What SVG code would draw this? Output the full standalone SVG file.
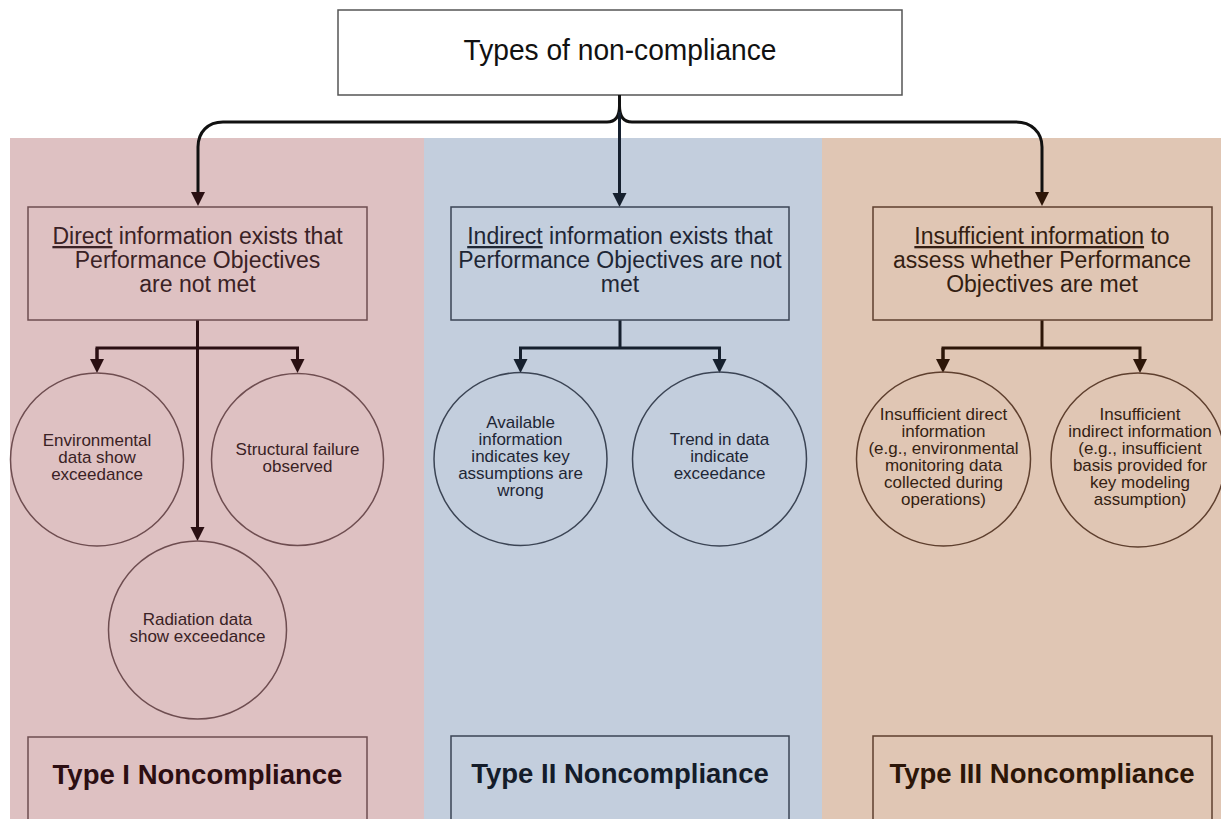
<svg xmlns="http://www.w3.org/2000/svg" width="1221" height="819" viewBox="0 0 1221 819">
<style>
text{font-family:"Liberation Sans",Arial,sans-serif;text-anchor:middle}
.hdr{font-size:23px}
.cir{font-size:17px}
.big{font-size:27.5px;font-weight:bold}
.p1 .box,.p1 .c{fill:none;stroke:#6e4d50;stroke-width:1.5}
.p2 .box,.p2 .c{fill:none;stroke:#3b4454;stroke-width:1.5}
.p3 .box,.p3 .c{fill:none;stroke:#5e3f2e;stroke-width:1.5}
.p1 text{fill:#3a2225}
.p2 text{fill:#1e2635}
.p3 text{fill:#341e12}
.p1 .big{fill:#2c0e12}
.p2 .big{fill:#141c2a}
.p3 .big{fill:#2c1608}
.ln{fill:none;stroke-width:3}
</style>
<defs>
<marker id="a1" markerUnits="userSpaceOnUse" markerWidth="15" markerHeight="15" refX="5" refY="7" orient="auto"><path d="M0,0 L14,7 L0,14 z" fill="#2a0f12"/></marker>
<marker id="a2" markerUnits="userSpaceOnUse" markerWidth="15" markerHeight="15" refX="5" refY="7" orient="auto"><path d="M0,0 L14,7 L0,14 z" fill="#16202e"/></marker>
<marker id="a3" markerUnits="userSpaceOnUse" markerWidth="15" markerHeight="15" refX="5" refY="7" orient="auto"><path d="M0,0 L14,7 L0,14 z" fill="#2d1608"/></marker>
</defs>
<rect width="1221" height="819" fill="#ffffff"/>
<g id="panels">
<rect x="10" y="138" width="414" height="681" fill="#dec1c2"/>
<rect x="424" y="138" width="398" height="681" fill="#c3cedd"/>
<rect x="822" y="138" width="399" height="681" fill="#e0c6b4"/>
</g>
<g id="root">
<rect x="338" y="10" width="564" height="85" fill="#ffffff" stroke="#555555" stroke-width="1.5"/>
<text x="620" y="60" font-size="30" fill="#111" textLength="313" lengthAdjust="spacingAndGlyphs">Types of non-compliance</text>
</g>
<g id="connectors">
<path class="ln" stroke="#111" stroke-width="3.5" d="M619.5,106 C619.5,117 615,122 607,122 H223 C208,122 198,132 198,147 V197" marker-end="url(#a1)"/>
<path class="ln" stroke="#111" stroke-width="3.5" d="M619.5,106 C619.5,117 624,122 632,122 H1016 C1031,122 1042,132 1042,147 V197" marker-end="url(#a3)"/>
<path class="ln" stroke="#16202e" stroke-width="2.5" d="M619.5,95 V198" marker-end="url(#a2)"/>
<path class="ln" stroke="#111" stroke-width="2" d="M619.5,95 V112"/>
<path class="ln" stroke="#2a0f12" d="M197.5,320 V532" marker-end="url(#a1)"/>
<path class="ln" stroke="#2a0f12" d="M97,364 V348 H297.5 V364" marker-end="url(#a1)"/>
<path class="ln" stroke="#2a0f12" d="M97,348 V364" marker-end="url(#a1)"/>
<path class="ln" stroke="#16202e" d="M620,320 V348"/>
<path class="ln" stroke="#16202e" d="M520.5,364 V348 H719.5 V364" marker-end="url(#a2)"/>
<path class="ln" stroke="#16202e" d="M520.5,348 V364" marker-end="url(#a2)"/>
<path class="ln" stroke="#2d1608" d="M1042,320 V348"/>
<path class="ln" stroke="#2d1608" d="M943,364 V348 H1140 V364" marker-end="url(#a3)"/>
<path class="ln" stroke="#2d1608" d="M943,348 V364" marker-end="url(#a3)"/>
</g>
<g id="direct" class="p1">
<rect class="box" x="28" y="207" width="339" height="113"/>
<text class="hdr" x="197.5" y="244"><tspan text-decoration="underline">Direct</tspan> information exists that</text>
<text class="hdr" x="197.5" y="268">Performance Objectives</text>
<text class="hdr" x="197.5" y="292">are not met</text>
</g>
<g id="env" class="p1">
<circle class="c" cx="97" cy="459.5" r="86.5"/>
<text class="cir" x="97" y="446">Environmental</text>
<text class="cir" x="97" y="463">data show</text>
<text class="cir" x="97" y="480">exceedance</text>
</g>
<g id="struct" class="p1">
<circle class="c" cx="297.5" cy="459.5" r="86"/>
<text class="cir" x="297.5" y="455">Structural failure</text>
<text class="cir" x="297.5" y="472">observed</text>
</g>
<g id="rad" class="p1">
<circle class="c" cx="197.5" cy="630" r="89"/>
<text class="cir" x="197.5" y="625">Radiation data</text>
<text class="cir" x="197.5" y="642">show exceedance</text>
</g>
<g id="type1" class="p1">
<rect class="box" x="28" y="737" width="339" height="100"/>
<text class="big" x="197.5" y="784">Type I Noncompliance</text>
</g>
<g id="indirect" class="p2">
<rect class="box" x="451" y="207" width="338" height="113"/>
<text class="hdr" x="620" y="244"><tspan text-decoration="underline">Indirect</tspan> information exists that</text>
<text class="hdr" x="620" y="268">Performance Objectives are not</text>
<text class="hdr" x="620" y="292">met</text>
</g>
<g id="avail" class="p2">
<circle class="c" cx="520.5" cy="459" r="86.5"/>
<text class="cir" x="520.5" y="428">Available</text>
<text class="cir" x="520.5" y="445">information</text>
<text class="cir" x="520.5" y="462">indicates key</text>
<text class="cir" x="520.5" y="479">assumptions are</text>
<text class="cir" x="520.5" y="496">wrong</text>
</g>
<g id="trend" class="p2">
<circle class="c" cx="719.5" cy="459" r="87"/>
<text class="cir" x="719.5" y="445">Trend in data</text>
<text class="cir" x="719.5" y="462">indicate</text>
<text class="cir" x="719.5" y="479">exceedance</text>
</g>
<g id="type2" class="p2">
<rect class="box" x="451" y="736" width="338" height="100"/>
<text class="big" x="620" y="783">Type II Noncompliance</text>
</g>
<g id="insufficient" class="p3">
<rect class="box" x="873" y="207" width="339" height="113"/>
<text class="hdr" x="1042" y="244"><tspan text-decoration="underline">Insufficient information</tspan> to</text>
<text class="hdr" x="1042" y="268">assess whether Performance</text>
<text class="hdr" x="1042" y="292">Objectives are met</text>
</g>
<g id="insdirect" class="p3">
<circle class="c" cx="943.5" cy="459" r="87"/>
<text class="cir" x="943.5" y="420">Insufficient direct</text>
<text class="cir" x="943.5" y="437">information</text>
<text class="cir" x="943.5" y="454">(e.g., environmental</text>
<text class="cir" x="943.5" y="471">monitoring data</text>
<text class="cir" x="943.5" y="488">collected during</text>
<text class="cir" x="943.5" y="505">operations)</text>
</g>
<g id="insindirect" class="p3">
<circle class="c" cx="1138" cy="460" r="87"/>
<text class="cir" x="1140" y="420">Insufficient</text>
<text class="cir" x="1140" y="437">indirect information</text>
<text class="cir" x="1140" y="454">(e.g., insufficient</text>
<text class="cir" x="1140" y="471">basis provided for</text>
<text class="cir" x="1140" y="488">key modeling</text>
<text class="cir" x="1140" y="505">assumption)</text>
</g>
<g id="type3" class="p3">
<rect class="box" x="873" y="736" width="339" height="100"/>
<text class="big" x="1042" y="783">Type III Noncompliance</text>
</g>
</svg>
